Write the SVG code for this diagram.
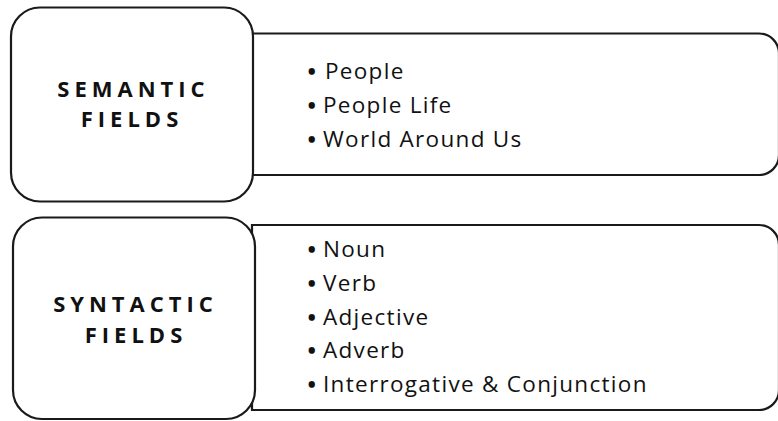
<svg xmlns="http://www.w3.org/2000/svg" width="778" height="421" viewBox="0 0 778 421">
<style>
.box{fill:#fff;stroke:#1a1a1a;stroke-width:2.2}
.lbl{font-family:"Open Sans","Liberation Sans",sans-serif;font-weight:bold;font-size:22px;letter-spacing:5px;fill:#111;text-anchor:middle}
.item{font-family:"Open Sans","Liberation Sans",sans-serif;font-size:22.5px;letter-spacing:1.3px;fill:#111}
.bul{letter-spacing:0;stroke:#111;stroke-width:1.6}
</style>
<rect width="778" height="421" fill="#fff"/>
<g id="semantic-list">
<path class="box" d="M252,33.5 H759 A20,20 0 0 1 779,53.5 V155 A20,20 0 0 1 759,175 H252 Z"/>
<text class="item" y="79"><tspan class="bul" x="307.5">•</tspan><tspan x="325">People</tspan></text>
<text class="item" y="113.3"><tspan class="bul" x="307.5">•</tspan><tspan x="323">People Life</tspan></text>
<text class="item" y="146.7"><tspan class="bul" x="307.5">•</tspan><tspan x="323">World Around Us</tspan></text>
</g>
<g id="syntactic-list">
<path class="box" d="M252,225 H759 A20,20 0 0 1 779,245 V390 A20,20 0 0 1 759,410 H252 Z"/>
<text class="item" y="257.3"><tspan class="bul" x="307.5">•</tspan><tspan x="323">Noun</tspan></text>
<text class="item" y="290.9"><tspan class="bul" x="307.5">•</tspan><tspan x="323">Verb</tspan></text>
<text class="item" y="324.5"><tspan class="bul" x="307.5">•</tspan><tspan x="323">Adjective</tspan></text>
<text class="item" y="358.1"><tspan class="bul" x="307.5">•</tspan><tspan x="323">Adverb</tspan></text>
<text class="item" y="391.7"><tspan class="bul" x="307.5">•</tspan><tspan x="323">Interrogative &amp; Conjunction</tspan></text>
</g>
<g id="semantic">
<rect class="box" x="11" y="7.5" width="242" height="194" rx="29" ry="29"/>
<text class="lbl" x="133.5" y="96.7">SEMANTIC</text>
<text class="lbl" x="132" y="127.3">FIELDS</text>
</g>
<g id="syntactic">
<rect class="box" x="13" y="217.5" width="242" height="201.5" rx="29" ry="29"/>
<text class="lbl" x="135.5" y="311.7">SYNTACTIC</text>
<text class="lbl" x="136" y="342.7">FIELDS</text>
</g>
<g id="connectors"/>
</svg>
